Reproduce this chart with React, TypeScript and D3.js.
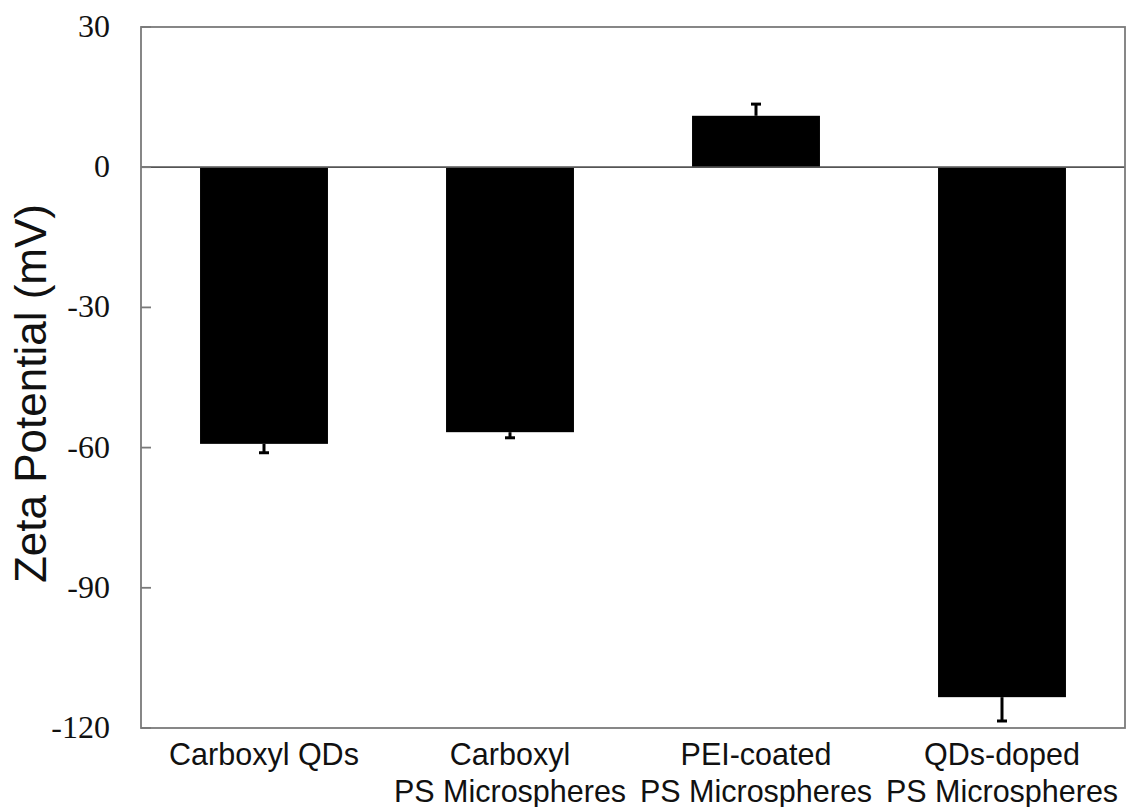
import { scaleBand, scaleLinear } from "d3";

const categories = ["Carboxyl QDs", "Carboxyl PS Microspheres", "PEI-coated PS Microspheres", "QDs-doped PS Microspheres"];
const labelLines = [["Carboxyl QDs"], ["Carboxyl", "PS Microspheres"], ["PEI-coated", "PS Microspheres"], ["QDs-doped", "PS Microspheres"]];
const values = [-59.2, -56.7, 11.0, -113.4];
const errors = [1.9, 1.2, 2.5, 5.1];
const yTicks = [30, 0, -30, -60, -90, -120];

export default function App() {
  const width = 1131;
  const height = 807;
  const marginLeft = 141;
  const marginRight = 6;
  const marginTop = 27;
  const marginBottom = 79;

  const x = scaleBand(categories, [marginLeft, width - marginRight]).paddingInner(0.48).paddingOuter(0.24);
  const y = scaleLinear([-120, 30], [height - marginBottom, marginTop]);

  const frame = "#7a7a7a";

  return (
    <svg width={width} height={height} style={{ position: "absolute", left: 0, top: 0, background: "#fff" }}>
      {categories.map((c, i) => {
        const v = values[i];
        const cx = x(c)! + x.bandwidth() / 2;
        const end = v + Math.sign(v) * errors[i];
        return (
          <g key={c}>
            <line x1={cx} x2={cx} y1={y(v)} y2={y(end)} stroke="#000" strokeWidth={3} />
            <line x1={cx - 5} x2={cx + 5} y1={y(end)} y2={y(end)} stroke="#000" strokeWidth={3} />
            <rect x={x(c)} y={y(Math.max(0, v))} width={x.bandwidth()} height={Math.abs(y(v) - y(0))} fill="#000" />
          </g>
        );
      })}
      <line x1={marginLeft} x2={width - marginRight} y1={y(0)} y2={y(0)} stroke="#555" strokeWidth={1.8} />
      <rect
        x={marginLeft}
        y={marginTop}
        width={width - marginRight - marginLeft}
        height={height - marginBottom - marginTop}
        fill="none"
        stroke={frame}
        strokeWidth={1.8}
      />
      {yTicks.map((t) => (
        <g key={t}>
          <line x1={marginLeft} x2={marginLeft + 10} y1={y(t)} y2={y(t)} stroke={frame} strokeWidth={1.8} />
          <text
            x={marginLeft - 31}
            y={y(t) + 10}
            textAnchor="end"
            fontFamily="'Liberation Serif', 'Times New Roman', serif"
            fontSize={32}
            fill="#111"
          >
            {t}
          </text>
        </g>
      ))}
      {categories.map((c, i) => (
        <text
          key={c}
          x={x(c)! + x.bandwidth() / 2}
          y={765}
          textAnchor="middle"
          fontFamily="'Liberation Sans', Arial, sans-serif"
          fontSize={30.5}
          fill="#111"
        >
          {labelLines[i].map((l, j) => (
            <tspan key={j} x={x(c)! + x.bandwidth() / 2} dy={j === 0 ? 0 : 37}>
              {l}
            </tspan>
          ))}
        </text>
      ))}
      <text
        transform={`translate(46,${(marginTop + height - marginBottom) / 2 + 16}) rotate(-90)`}
        textAnchor="middle"
        fontFamily="'Liberation Sans', Arial, sans-serif"
        fontSize={44}
        fill="#111"
      >
        Zeta Potential (mV)
      </text>
    </svg>
  );
}
